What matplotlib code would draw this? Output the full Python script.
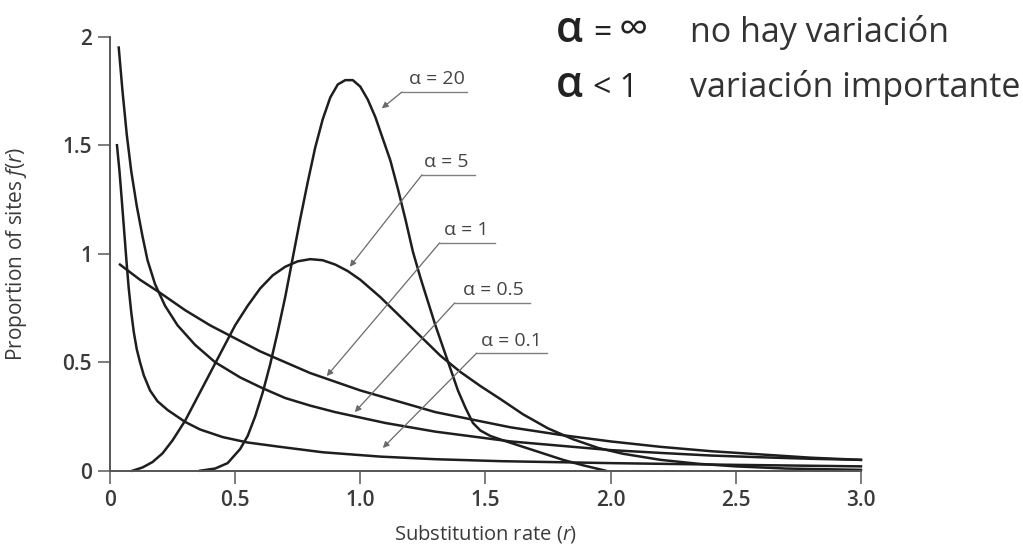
import matplotlib
matplotlib.use("Agg")
import matplotlib.pyplot as plt

plt.rcParams['font.family'] = ['Open Sans', 'DejaVu Sans']
plt.rcParams['mathtext.fontset'] = 'custom'
plt.rcParams['mathtext.rm'] = 'Open Sans'
plt.rcParams['mathtext.it'] = 'Open Sans:italic'

# curves (substitution rate r, proportion f(r))
r01 = [0.028, 0.038, 0.047, 0.057, 0.067, 0.075, 0.085, 0.095, 0.107, 0.12, 0.135, 0.16, 0.19, 0.23,
       0.30, 0.36, 0.45, 0.55, 0.68, 0.85, 1.08, 1.3, 1.56, 2.0, 2.5, 3.0]
y01 = [1.50, 1.38, 1.25, 1.10, 0.95, 0.84, 0.73, 0.64, 0.56, 0.50, 0.44, 0.37, 0.32, 0.28,
       0.225, 0.19, 0.155, 0.13, 0.11, 0.085, 0.065, 0.053, 0.044, 0.035, 0.027, 0.02]

r05 = [0.035, 0.05, 0.067, 0.085, 0.107, 0.13, 0.15, 0.18, 0.22, 0.27, 0.34, 0.42, 0.52, 0.61, 0.70,
       0.80, 0.90, 1.0, 1.1, 1.2, 1.3, 1.4, 1.6, 1.8, 2.0, 2.2, 2.4, 2.6, 2.8, 3.0]
y05 = [1.95, 1.75, 1.55, 1.38, 1.22, 1.08, 0.97, 0.86, 0.76, 0.67, 0.58, 0.50, 0.43, 0.38, 0.335,
       0.30, 0.27, 0.245, 0.22, 0.20, 0.18, 0.165, 0.135, 0.115, 0.095, 0.082, 0.07, 0.062, 0.055, 0.05]

r1 = [0.04, 0.12, 0.2, 0.3, 0.4, 0.5, 0.6, 0.7, 0.8, 0.9, 1.0, 1.15, 1.3, 1.45, 1.6, 1.8, 2.0,
      2.2, 2.4, 2.6, 2.8, 3.0]
y1 = [0.95, 0.88, 0.82, 0.74, 0.67, 0.61, 0.55, 0.50, 0.45, 0.41, 0.37, 0.32, 0.27, 0.235, 0.20,
      0.165, 0.135, 0.11, 0.09, 0.075, 0.06, 0.05]

r5 = [0.09, 0.13, 0.17, 0.21, 0.25, 0.30, 0.35, 0.40, 0.45, 0.50, 0.55, 0.60, 0.65, 0.70, 0.75,
      0.80, 0.85, 0.90, 0.95, 1.00, 1.08, 1.16, 1.24, 1.32, 1.40, 1.48, 1.56, 1.65, 1.75, 1.85,
      1.95, 2.05, 2.2, 2.35, 2.5, 2.7, 3.0]
y5 = [0.0, 0.015, 0.04, 0.08, 0.14, 0.23, 0.34, 0.45, 0.56, 0.67, 0.76, 0.84, 0.90, 0.94, 0.965,
      0.975, 0.97, 0.95, 0.92, 0.88, 0.80, 0.71, 0.62, 0.53, 0.455, 0.39, 0.33, 0.26, 0.195, 0.145,
      0.105, 0.078, 0.05, 0.032, 0.02, 0.01, 0.004]

r20 = [0.36, 0.42, 0.47, 0.52, 0.55, 0.58, 0.61, 0.64, 0.67, 0.70, 0.73, 0.76, 0.79, 0.82, 0.85,
       0.88, 0.91, 0.94, 0.97, 1.00, 1.03, 1.06, 1.09, 1.12, 1.15, 1.18, 1.21, 1.24, 1.27, 1.30,
       1.33, 1.36, 1.39, 1.42, 1.45, 1.48, 1.52, 1.57, 1.65, 1.73, 1.81, 1.89, 1.98]
y20 = [0.0, 0.01, 0.035, 0.10, 0.16, 0.25, 0.36, 0.49, 0.64, 0.80, 0.98, 1.16, 1.33, 1.49, 1.62,
       1.72, 1.78, 1.80, 1.80, 1.77, 1.71, 1.63, 1.53, 1.43, 1.30, 1.16, 1.01, 0.89, 0.78, 0.67,
       0.57, 0.47, 0.37, 0.29, 0.22, 0.185, 0.16, 0.14, 0.11, 0.08, 0.05, 0.025, 0.0]

curves = [(r01, y01), (r05, y05), (r1, y1), (r5, y5), (r20, y20)]

labels = ["α = 0.1", "α = 0.5", "α = 1", "α = 5", "α = 20"]
# (arrow tip, underline start, underline end, text centre x) in data units
label_pos = [
    ((1.09, 0.105), (1.465, 0.542), 1.745, 1.605),
    ((0.978, 0.27), (1.377, 0.773), 1.677, 1.530),
    ((0.866, 0.436), (1.317, 1.05), 1.537, 1.425),
    ((0.958, 0.94), (1.246, 1.363), 1.457, 1.345),
    ((1.086, 1.67), (1.166, 1.745), 1.425, 1.305),
]

xticks = [0, 0.5, 1.0, 1.5, 2.0, 2.5, 3.0]
xticklabels = ["0", "0.5", "1.0", "1.5", "2.0", "2.5", "3.0"]
yticks = [0, 0.5, 1, 1.5, 2]
yticklabels = ["0", "0.5", "1", "1.5", "2"]

fig = plt.figure(figsize=(10.23, 5.45), dpi=100)
ax = fig.add_axes([0.1075, 0.1363, 0.7341, 0.7963])

for xs, ys in curves:
    ax.plot(xs, ys, color="#1e1e1e", lw=1.8, solid_joinstyle="round", clip_on=False)

for lab, (tip, u0, u1, tx) in zip(labels, label_pos):
    ax.plot([u0[0], u1], [u0[1], u0[1]], color="#808080", lw=1.0, clip_on=False)
    ax.annotate("", xy=tip, xytext=u0,
                arrowprops=dict(arrowstyle="-|>", color="#6a6a6a", lw=0.9,
                                mutation_scale=9, shrinkA=0, shrinkB=0))
    ax.text(tx, u0[1] + 0.035, lab, ha="center", va="baseline", fontsize=14, color="#444444")

ax.set_xlim(0, 3.0)
ax.set_ylim(0, 2)
ax.set_xticks(xticks)
ax.set_xticklabels(xticklabels)
ax.set_yticks(yticks)
ax.set_yticklabels(yticklabels)
for s in ["top", "right"]:
    ax.spines[s].set_visible(False)
for s in ["left", "bottom"]:
    ax.spines[s].set_color("#555555")
    ax.spines[s].set_linewidth(1.4)
ax.tick_params(direction="out", length=9, width=1.2, color="#666666",
               labelsize=15, labelcolor="#3a3a3a")
ax.tick_params(axis="x", pad=5)
ax.tick_params(axis="y", pad=4)
for t in ax.get_xticklabels() + ax.get_yticklabels():
    t.set_fontweight("semibold")

ax.set_xlabel("Substitution rate $(r)$", fontsize=14.5, color="#3a3a3a")
ax.set_ylabel("Proportion of sites $f(r)$", fontsize=15, color="#3a3a3a")
ax.xaxis.set_label_coords(0.50, -0.121)
ax.yaxis.set_label_coords(-0.108, 0.50)

fig.text(0.5435, 0.923, "α", fontsize=31, fontweight="semibold", color="#222222", va="baseline")
fig.text(0.580, 0.923, "=", fontsize=23, color="#222222", va="baseline")
fig.text(0.605, 0.923, "∞", fontsize=30, color="#222222", va="baseline")
fig.text(0.6745, 0.923, "no hay variación", fontsize=24.5, color="#333333", va="baseline")
fig.text(0.5435, 0.822, "α", fontsize=31, fontweight="semibold", color="#222222", va="baseline")
fig.text(0.580, 0.822, "< 1", fontsize=23, color="#222222", va="baseline")
fig.text(0.6745, 0.822, "variación importante", fontsize=24.5, color="#333333", va="baseline")

fig.savefig("out.png", dpi=100)
